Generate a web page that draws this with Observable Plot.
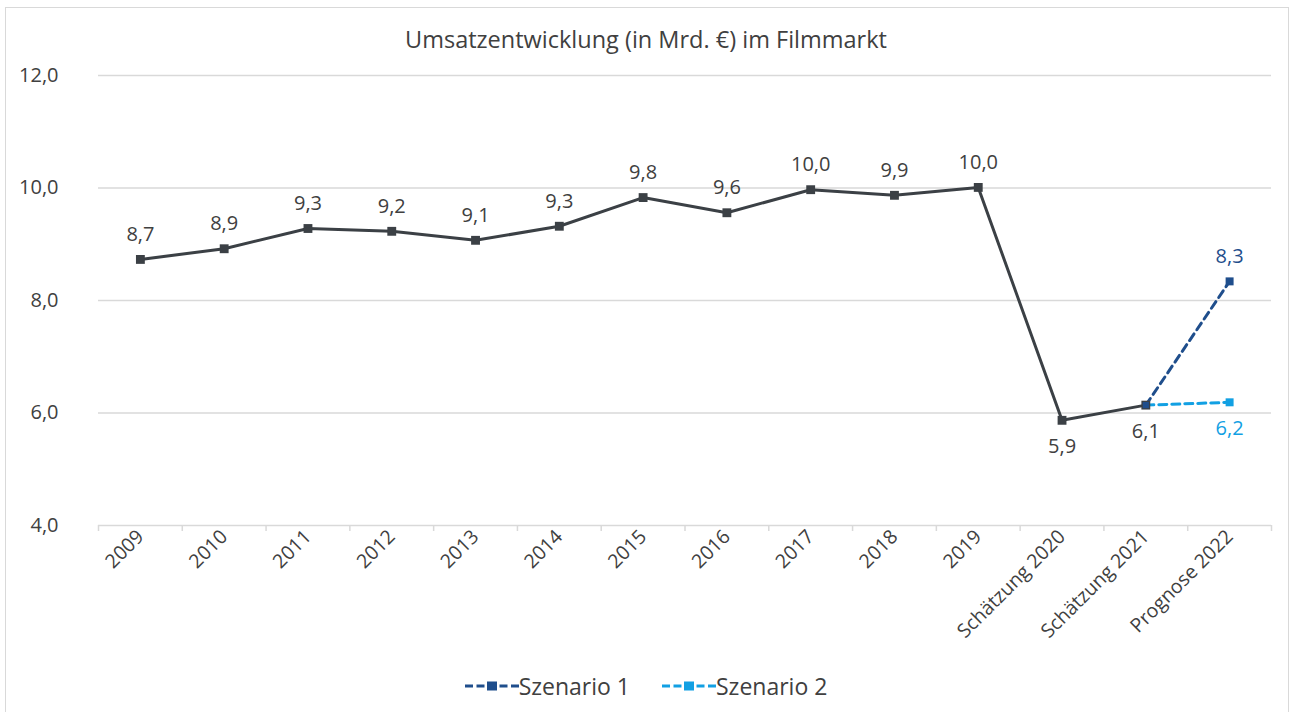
<!DOCTYPE html>
<html>
<head>
<meta charset="utf-8">
<script src="https://cdn.jsdelivr.net/npm/d3@7"></script>
<script src="https://cdn.jsdelivr.net/npm/@observablehq/plot@0.6"></script>
<style>
  body { margin:0; background:#fff; font-family: "Open Sans", Roboto, sans-serif; }
  #frame { position:absolute; left:5px; top:7px; width:1284px; height:720px; border:1px solid #d9d9d9; box-sizing:border-box; }
  #title { position:absolute; left:0; top:23px; width:1292px; text-align:center; font-size:23.5px; color:#404040; }
  #chart { position:absolute; left:0; top:60px; }
  #legend { position:absolute; left:0; top:670px; width:1292px; display:flex; justify-content:center; gap:32px; font-size:23px; color:#404040; }
  .li { display:flex; align-items:center; }
</style>
</head>
<body>
<div id="frame"></div>
<div id="title">Umsatzentwicklung (in Mrd. €) im Filmmarkt</div>
<div id="chart"></div>
<div id="legend"></div>
<script>
const categories = ["2009","2010","2011","2012","2013","2014","2015","2016","2017","2018","2019","Schätzung 2020","Schätzung 2021","Prognose 2022"];
const mainValues = [8.73, 8.92, 9.28, 9.23, 9.07, 9.32, 9.83, 9.56, 9.97, 9.87, 10.01, 5.87, 6.14];
const scenario1Cats = ["Schätzung 2021","Prognose 2022"];
const scenario1Values = [6.14, 8.34];
const scenario2Cats = ["Schätzung 2021","Prognose 2022"];
const scenario2Values = [6.14, 6.19];
const yTicks = [4, 6, 8, 10, 12];

const idx = c => categories.indexOf(c) + 0.5;
const fmt = v => d3.format(".1f")(v).replace(".", ",");

const main = mainValues.map((v, i) => ({x: i + 0.5, y: v, cat: categories[i]}));
const s1 = scenario1Values.map((v, i) => ({x: idx(scenario1Cats[i]), y: v}));
const s2 = scenario2Values.map((v, i) => ({x: idx(scenario2Cats[i]), y: v}));

const cMain = "#3b4045", cS1 = "#1f4e8c", cS2 = "#12a0e3", grid = "#d9d9d9", txt = "#404040";
const below = new Set(["Schätzung 2020","Schätzung 2021"]);
const FS = 20;

const chart = Plot.plot({
  width: 1292,
  height: 600,
  marginLeft: 98,
  marginRight: 21,
  marginTop: 15,
  marginBottom: 135,
  style: {fontFamily: "'Open Sans', Roboto, sans-serif", fontSize: FS + "px", color: txt, background: "transparent"},
  x: {domain: [0, categories.length], axis: null, label: null},
  y: {domain: [4, 12], axis: null, label: null},
  marks: [
    Plot.gridY(yTicks, {stroke: grid, strokeOpacity: 1, strokeWidth: 1.5}),
    Plot.axisY({ticks: yTicks, tickSize: 0, tickPadding: 40, tickFormat: fmt, fontSize: FS, fill: txt, label: null}),
    Plot.axisX({ticks: d3.range(categories.length + 1), tickSize: 6, tickFormat: () => "", stroke: grid, strokeWidth: 1.5, label: null}),
    Plot.axisX({ticks: categories.map((c, i) => i + 0.5), tickSize: 0, tickPadding: 8, tickRotate: -45,
      tickFormat: v => categories[Math.floor(v)], fontSize: 19.5, fill: txt, label: null}),
    Plot.line(s1, {x: "x", y: "y", stroke: cS1, strokeWidth: 3, strokeDasharray: "8,5"}),
    Plot.line(s2, {x: "x", y: "y", stroke: cS2, strokeWidth: 3, strokeDasharray: "8,5"}),
    Plot.line(main, {x: "x", y: "y", stroke: cMain, strokeWidth: 3}),
    Plot.dot(main, {x: "x", y: "y", symbol: "square", r: 5, fill: cMain}),
    Plot.dot(s1.slice(1), {x: "x", y: "y", symbol: "square", r: 4.5, fill: cS1}),
    Plot.dot(s2.slice(1), {x: "x", y: "y", symbol: "square", r: 4.5, fill: cS2}),
    Plot.dot(s1.slice(0, 1), {x: "x", y: "y", symbol: "square", r: 3.5, fill: cS1}),
    Plot.text(main.filter(d => !below.has(d.cat)), {x: "x", y: "y", text: d => fmt(d.y), dy: -25, fill: txt, fontSize: FS}),
    Plot.text(main.filter(d => below.has(d.cat)), {x: "x", y: "y", text: d => fmt(d.y), dy: 26, fill: txt, fontSize: FS}),
    Plot.text(s1.slice(1), {x: "x", y: "y", text: d => fmt(d.y), dy: -25, fill: cS1, fontSize: FS}),
    Plot.text(s2.slice(1), {x: "x", y: "y", text: d => fmt(d.y), dy: 26, fill: cS2, fontSize: FS})
  ]
});
document.getElementById("chart").appendChild(chart);

// legend
const legend = d3.select("#legend");
[["Szenario 1", cS1], ["Szenario 2", cS2]].forEach(([name, col]) => {
  const item = legend.append("div").attr("class", "li");
  const svg = item.append("svg").attr("width", 54).attr("height", 20);
  svg.append("line").attr("x1", 0).attr("x2", 54).attr("y1", 10).attr("y2", 10)
    .attr("stroke", col).attr("stroke-width", 3).attr("stroke-dasharray", "8,3.5");
  svg.append("rect").attr("x", 22).attr("y", 5.5).attr("width", 10).attr("height", 9).attr("fill", col);
  item.append("span").text(name);
});
</script>
</body>
</html>
